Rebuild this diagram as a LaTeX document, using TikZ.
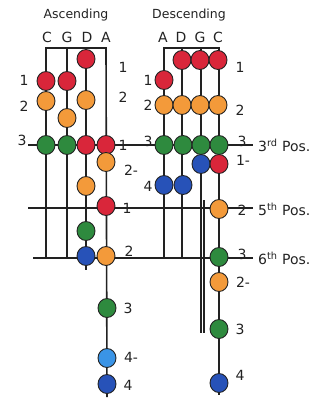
\documentclass[tikz,border=0pt]{standalone}
\usepackage{fontspec}
\usetikzlibrary{shapes.geometric}
\setmainfont{DejaVu Sans}
\definecolor{fRed}{HTML}{D9263A}
\definecolor{fOrange}{HTML}{F39A3A}
\definecolor{fGreen}{HTML}{2E8A3E}
\definecolor{fBlue}{HTML}{2752B8}
\definecolor{fSky}{HTML}{3A94E6}
\definecolor{ink}{HTML}{222222}
\begin{document}
\begin{tikzpicture}[x=1pt,y=-1pt,
  string/.style={draw=ink, line width=1.6pt},
  posline/.style={draw=ink, line width=1.6pt},
  dot/.style={ellipse, draw=ink, line width=0.9pt, minimum width=18pt, minimum height=19pt, inner sep=0pt},
  dR/.style={dot, fill=fRed},
  dO/.style={dot, fill=fOrange},
  dG/.style={dot, fill=fGreen},
  dB/.style={dot, fill=fBlue},
  dS/.style={dot, fill=fSky},
  num/.style={font=\fontsize{14}{14}\selectfont, inner sep=0pt, text=ink},
  head/.style={font=\fontsize{12.5}{12.5}\selectfont, inner sep=0pt, text=ink},
  strname/.style={font=\fontsize{14}{14}\selectfont, inner sep=0pt, text=ink},
  posname/.style={font=\fontsize{14}{14}\selectfont, inner sep=0pt, text=ink, anchor=west}]
\useasboundingbox (0,0) rectangle (328,412);

% headings
\node[head] (hasc) at (76,15) {Ascending};
\node[head] (hdesc) at (189,15) {Descending};
\node[strname] (sC1) at (47,37) {C};
\node[strname] (sG1) at (67,37) {G};
\node[strname] (sD1) at (87,37) {D};
\node[strname] (sA1) at (106,37) {A};
\node[strname] (sA2) at (163,37) {A};
\node[strname] (sD2) at (181,37) {D};
\node[strname] (sG2) at (200,37) {G};
\node[strname] (sC2) at (218,37) {C};

% string end points
\coordinate (aCt) at (46,48);  \coordinate (aCb) at (46,258);
\coordinate (aGt) at (67,48);  \coordinate (aGb) at (67,258);
\coordinate (aDt) at (86,48);  \coordinate (aDb) at (86,270);
\coordinate (aAt) at (106,48); \coordinate (aAb) at (107,397);
\coordinate (dAt) at (164,48); \coordinate (dAb) at (164,257);
\coordinate (dDt) at (182,48); \coordinate (dDb) at (182,257);
\coordinate (dGt) at (201,48); \coordinate (dGb) at (201,333);
\coordinate (dGm) at (204,200); \coordinate (dGe) at (204,333);
\coordinate (dCt) at (219,48); \coordinate (dCb) at (219,395);

% position lines
\coordinate (p3l) at (28,145);  \coordinate (p3r) at (253,145);
\coordinate (p5l) at (28,208);  \coordinate (p5r) at (253,208);
\coordinate (p6l) at (33,258);  \coordinate (p6r) at (253,258);
\draw[posline] (p3l) -- (p3r);
\draw[posline] (p5l) -- (p5r);
\draw[posline] (p6l) -- (p6r);

% strings with their brackets
\draw[string] (aCb) -- (aCt) -- (aAt) -- (aAb);
\draw[string] (aGt) -- (aGb);
\draw[string] (aDt) -- (aDb);
\draw[string] (dAb) -- (dAt) -- (dCt) -- (dCb);
\draw[string] (dDt) -- (dDb);
\draw[string] (dGt) -- (dGb);
\draw[string, line width=1.1pt] (dGm) -- (dGe);

% ascending fingerings
\node[dR] (a1) at (86,59) {};
\node[dR] (a2) at (46,81) {};
\node[dR] (a3) at (67,81) {};
\node[dO] (a4) at (46,101) {};
\node[dO] (a5) at (86,100) {};
\node[dO] (a6) at (67,118) {};
\node[dG] (a7) at (46,145) {};
\node[dG] (a8) at (67,145) {};
\node[dR] (a9) at (86,145) {};
\node[dR] (a10) at (106,145) {};
\node[dO] (a11) at (106,162) {};
\node[dO] (a12) at (86,186) {};
\node[dR] (a13) at (106,206) {};
\node[dG] (a14) at (86,231) {};
\node[dB] (a15) at (86,256) {};
\node[dO] (a16) at (106,256) {};
\node[dG] (a17) at (107,308) {};
\node[dS] (a18) at (107,358) {};
\node[dB] (a19) at (107,384) {};

% descending fingerings
\node[dR] (d1) at (182,60) {};
\node[dR] (d2) at (200,60) {};
\node[dR] (d3) at (218,60) {};
\node[dR] (d4) at (164,80) {};
\node[dO] (d5) at (164,105) {};
\node[dO] (d6) at (182,105) {};
\node[dO] (d7) at (200,105) {};
\node[dO] (d8) at (218,105) {};
\node[dG] (d9) at (164,145) {};
\node[dG] (d10) at (183,145) {};
\node[dG] (d11) at (201,145) {};
\node[dG] (d12) at (219,145) {};
\node[dB] (d13) at (201,164) {};
\node[dR] (d14) at (219,164) {};
\node[dB] (d15) at (164,185) {};
\node[dB] (d16) at (183,185) {};
\node[dO] (d17) at (219,209) {};
\node[dG] (d18) at (219,257) {};
\node[dO] (d19) at (219,282) {};
\node[dG] (d20) at (219,329) {};
\node[dB] (d21) at (219,383) {};

% finger numbers, ascending
\node[num] (la1) at (24,80) {1};
\node[num] (la2) at (24,106) {2};
\node[num] (la3) at (22,140) {3};
\node[num] (ra1) at (123,67) {1};
\node[num] (ra2) at (123,97) {2};
\node[num] (ra3) at (123,145) {1};
\node[num] (ra4) at (131,170) {2-};
\node[num] (ra5) at (127,208) {1};
\node[num] (ra6) at (129,251) {2};
\node[num] (ra7) at (128,308) {3};
\node[num] (ra8) at (131,357) {4-};
\node[num] (ra9) at (128,385) {4};

% finger numbers, descending
\node[num] (ld1) at (148,80) {1};
\node[num] (ld2) at (148,105) {2};
\node[num] (ld3) at (148,141) {3};
\node[num] (ld4) at (148,186) {4};
\node[num] (rd1) at (240,67) {1};
\node[num] (rd2) at (240,110) {2};
\node[num] (rd3) at (242,141) {3};
\node[num] (rd4) at (243,160) {1-};
\node[num] (rd5) at (242,210) {2};
\node[num] (rd6) at (242,254) {3};
\node[num] (rd7) at (243,282) {2-};
\node[num] (rd8) at (240,329) {3};
\node[num] (rd9) at (240,375) {4};

% position names
\node[posname] (n3) at (258,145) {3\textsuperscript{rd} Pos.};
\node[posname] (n5) at (258,209) {5\textsuperscript{th} Pos.};
\node[posname] (n6) at (258,258) {6\textsuperscript{th} Pos.};
\end{tikzpicture}
\end{document}
